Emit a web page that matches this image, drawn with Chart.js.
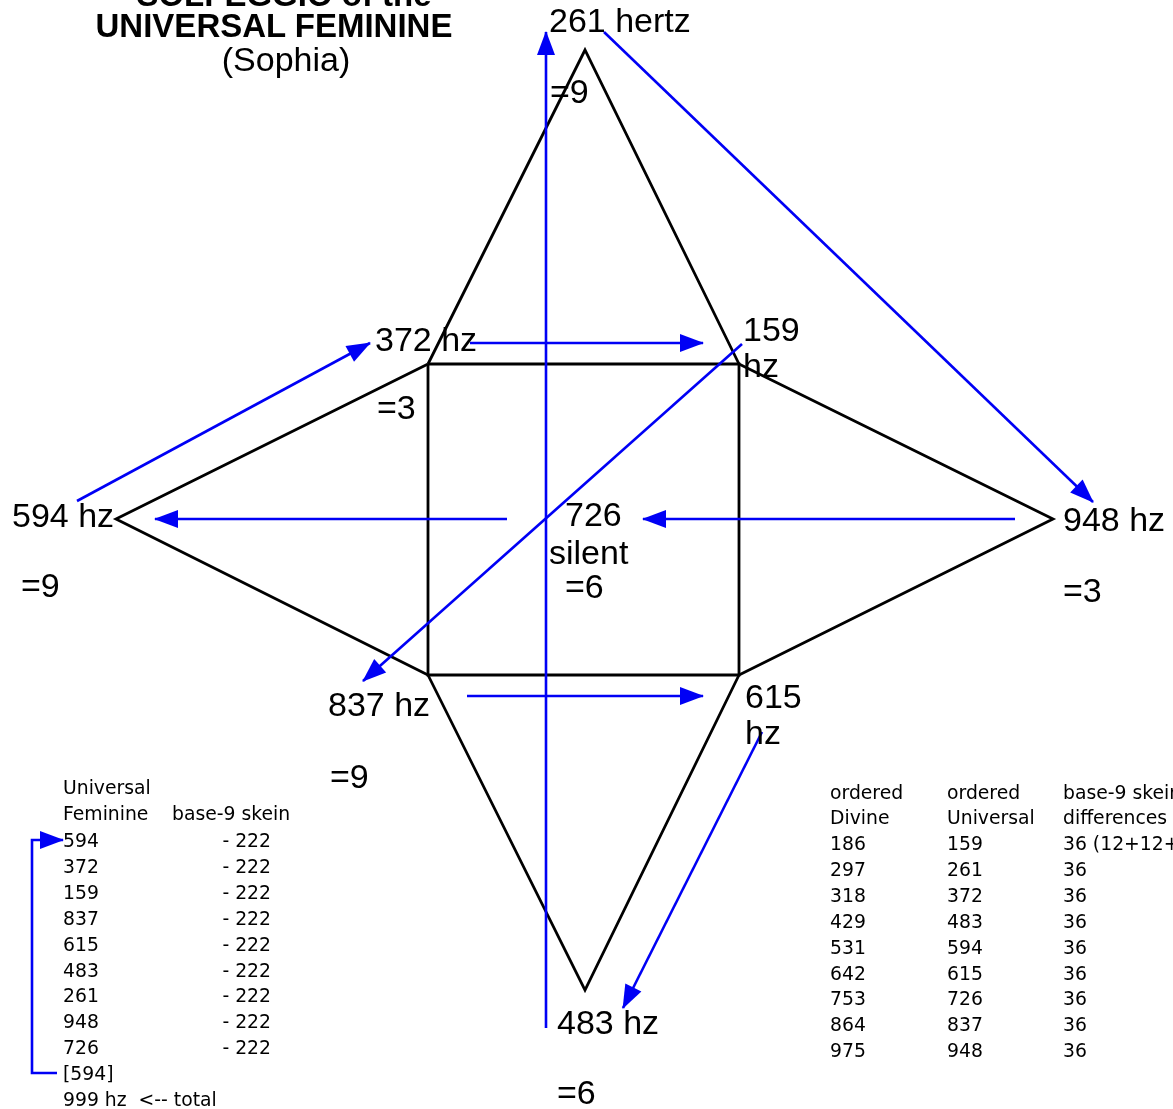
<!DOCTYPE html>
<html>
<head>
<meta charset="utf-8">
<script src="https://cdn.jsdelivr.net/npm/chart.js@4.4.1/dist/chart.umd.min.js"></script>
<style>
html, body { margin: 0; padding: 0; background: #fff; overflow: hidden; }
#wrap { position: relative; width: 1173px; height: 1109px; overflow: hidden; }
#wrap canvas { position: absolute; left: 0; top: 0; }
.lbl { position: absolute; white-space: pre; line-height: 1; color: #000; }
.big { font-family: "Liberation Sans", Arial, sans-serif; font-size: 34px; }
.head { font-family: "Liberation Sans", Arial, sans-serif; font-size: 33px; font-weight: bold; }
.tbl { font-family: "DejaVu Sans", sans-serif; font-size: 18.8px; }
</style>
</head>
<body>
<div id="wrap"><canvas id="diagram" width="1173" height="1109"></canvas></div>
<script>
// star outline, in picture coordinates (x right, y down)
const topKite = [[428, 364], [585, 50], [739, 364]];
const bottomKite = [[428, 675], [585, 990], [739, 675]];
const leftKite = [[428, 364], [116, 519], [428, 675]];
const rightKite = [[739, 364], [1053, 519], [739, 675]];
const square = [[428, 364], [739, 364], [739, 675], [428, 675], [428, 364]];

// blue arrows: start point, then tip
const arrows = [
    [[546, 1028], [546, 32]],
    [[604, 32], [1093, 502]],
    [[77, 501], [370, 343]],
    [[470, 343], [703, 343]],
    [[742, 344], [363, 681]],
    [[1015, 519], [643, 519]],
    [[507, 519], [155, 519]],
    [[467, 696], [703, 696]],
    [[762, 732], [623, 1008]],
    [[57, 1073], [32, 1073], [32, 840], [63, 840]],
];

// title lines
const titleText = ['SOLFEGGIO of the', 'UNIVERSAL FEMININE', '(Sophia)'];
const titleX = [284, 274, 286];
const titleY = [-6, 25, 59];

// frequency labels round the star
const nodeText = ['261 hertz', '=9', '372 hz', '159', 'hz', '=3', '594 hz', '=9', '726', 'silent', '=6',
    '948 hz', '=3', '837 hz', '=9', '615', 'hz', '483 hz', '=6'];
const nodeX = [549, 550, 375, 743, 743, 377, 12, 21, 565, 549, 565, 1063, 1063, 328, 330, 745, 745, 557, 557];
const nodeY = [20, 91, 339, 329, 365, 407, 515, 585, 514, 552, 586, 519, 590, 704, 776, 696, 732, 1022, 1092];

// left table
const feminineOrder = ['594', '372', '159', '837', '615', '483', '261', '948', '726'];
const skein = '- 222';
const feminineTail = ['[594]', '999 hz  <-- total'];

// right table
const orderedDivine = ['186', '297', '318', '429', '531', '642', '753', '864', '975'];
const orderedUniversal = ['159', '261', '372', '483', '594', '615', '726', '837', '948'];
const skeinDiffs = ['36 (12+12+12)', '36', '36', '36', '36', '36', '36', '36', '36'];

const ROW = 25.9;

function toPoints(list) {
    return list.map(function (p) {
        return { x: p[0], y: p[1] };
    });
}

function outline(list) {
    return { data: toPoints(list), borderColor: '#000', borderWidth: 2.8, order: 2 };
}

const datasets = [topKite, bottomKite, leftKite, rightKite, square].map(outline);
arrows.forEach(function (a) {
    datasets.push({ data: toPoints(a), borderColor: '#0000f5', borderWidth: 2.6, order: 1, arrow: true });
});

// every text label: [text, x, y, css class, anchor]
const labels = [];
titleText.forEach(function (t, i) {
    labels.push([t, titleX[i], titleY[i], i === 2 ? 'big' : 'head', 'center']);
});
nodeText.forEach(function (t, i) {
    labels.push([t, nodeX[i], nodeY[i], 'big', 'left']);
});
labels.push(['Universal', 63, 788, 'tbl', 'left']);
labels.push(['Feminine', 63, 814, 'tbl', 'left']);
labels.push(['base-9 skein', 172, 814, 'tbl', 'left']);
feminineOrder.forEach(function (v, i) {
    labels.push([v, 63, 841 + ROW * i, 'tbl', 'left']);
    labels.push([skein, 271, 841 + ROW * i, 'tbl', 'right']);
});
feminineTail.forEach(function (v, i) {
    labels.push([v, 63, 841 + ROW * (9 + i), 'tbl', 'left']);
});
labels.push(['ordered', 830, 793, 'tbl', 'left']);
labels.push(['ordered', 947, 793, 'tbl', 'left']);
labels.push(['base-9 skein', 1063, 793, 'tbl', 'left']);
labels.push(['Divine', 830, 818, 'tbl', 'left']);
labels.push(['Universal', 947, 818, 'tbl', 'left']);
labels.push(['differences', 1063, 818, 'tbl', 'left']);
orderedDivine.forEach(function (v, i) {
    const y = 844 + ROW * i;
    labels.push([v, 830, y, 'tbl', 'left']);
    labels.push([orderedUniversal[i], 947, y, 'tbl', 'left']);
    labels.push([skeinDiffs[i], 1063, y, 'tbl', 'left']);
});

const arrowHeads = {
    id: 'arrowHeads',
    afterDatasetsDraw(chart) {
        const ctx = chart.ctx;
        chart.data.datasets.forEach(function (ds, i) {
            if (!ds.arrow) return;
            const pts = chart.getDatasetMeta(i).data;
            const a = pts[pts.length - 2];
            const b = pts[pts.length - 1];
            ctx.save();
            ctx.fillStyle = ds.borderColor;
            ctx.translate(b.x, b.y);
            ctx.rotate(Math.atan2(b.y - a.y, b.x - a.x));
            ctx.beginPath();
            ctx.moveTo(1, 0);
            ctx.lineTo(-23, -9);
            ctx.lineTo(-23, 9);
            ctx.closePath();
            ctx.fill();
            ctx.restore();
        });
    },
};

let placed = false;
const textLabels = {
    id: 'textLabels',
    afterDraw(chart) {
        if (placed) return;
        placed = true;
        const wrap = document.getElementById('wrap');
        labels.forEach(function (l) {
            const el = document.createElement('div');
            el.className = 'lbl ' + l[3];
            el.textContent = l[0];
            el.style.left = chart.scales.x.getPixelForValue(l[1]) + 'px';
            el.style.top = chart.scales.y.getPixelForValue(l[2]) + 'px';
            const dx = l[4] === 'center' ? '-50%' : l[4] === 'right' ? '-100%' : '0';
            el.style.transform = 'translate(' + dx + ', -49%)';
            wrap.appendChild(el);
        });
    },
};

new Chart(document.getElementById('diagram'), {
    type: 'scatter',
    data: { datasets },
    options: {
        responsive: false,
        animation: false,
        events: [],
        layout: { padding: 0 },
        datasets: {
            scatter: { showLine: true, pointRadius: 0, tension: 0, fill: false, clip: false },
        },
        plugins: { legend: { display: false }, tooltip: { enabled: false } },
        scales: {
            x: { type: 'linear', min: 0, max: 1173, display: false },
            y: { type: 'linear', min: 0, max: 1109, reverse: true, display: false },
        },
    },
    plugins: [arrowHeads, textLabels],
});
</script>
</body>
</html>
